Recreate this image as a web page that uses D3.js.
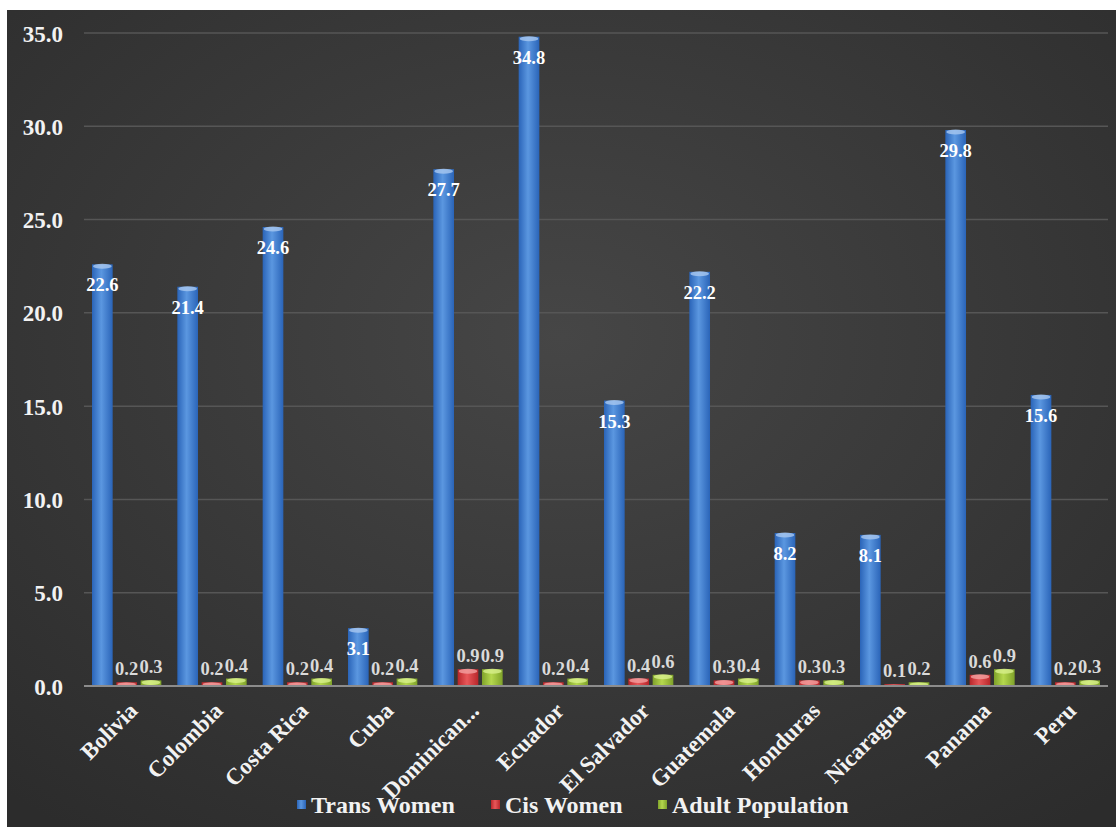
<!DOCTYPE html>
<html>
<head>
<meta charset="utf-8">
<script src="https://cdn.jsdelivr.net/npm/d3@7"></script>
<style>
  html, body { margin: 0; padding: 0; background: #fff; }
  svg { display: block; }
  text { font-family: "Liberation Serif", "DejaVu Serif", serif; font-weight: bold; }
</style>
</head>
<body>
<svg id="chart" width="1116" height="827"></svg>
<script>
var countries = ["Bolivia", "Colombia", "Costa Rica", "Cuba", "Dominican...", "Ecuador",
  "El Salvador", "Guatemala", "Honduras", "Nicaragua", "Panama", "Peru"]
var transWomen = [22.6, 21.4, 24.6, 3.1, 27.7, 34.8, 15.3, 22.2, 8.2, 8.1, 29.8, 15.6]
var cisWomen = [0.2, 0.2, 0.2, 0.2, 0.9, 0.2, 0.4, 0.3, 0.3, 0.1, 0.6, 0.2]
var adultPop = [0.3, 0.4, 0.4, 0.4, 0.9, 0.4, 0.6, 0.4, 0.3, 0.2, 0.9, 0.3]
var seriesNames = ["Trans Women", "Cis Women", "Adult Population"]
var yTicks = [0, 5, 10, 15, 20, 25, 30, 35]

var W = 1116, H = 827
var m = {left: 84, right: 8, top: 33, bottom: 141}
var svg = d3.select("#chart")
var defs = svg.append("defs")

// background: dark, a bit lighter toward the middle
var bg = defs.append("radialGradient").attr("id", "bg")
  .attr("cx", "50%").attr("cy", "40%").attr("r", "75%")
bg.append("stop").attr("offset", "0%").attr("stop-color", "#464646")
bg.append("stop").attr("offset", "100%").attr("stop-color", "#2c2c2c")
svg.append("rect").attr("x", 7).attr("y", 10).attr("width", W - 7).attr("height", H - 10)
  .attr("fill", "url(#bg)")

// cylinder-ish gradients for each series
var cols = [
  {dark: "#2a64b8", mid: "#5b97e0", cap: "#a9c8f0"},
  {dark: "#b8262a", mid: "#e8585a", cap: "#f2a0a0"},
  {dark: "#7fa22a", mid: "#b5d84e", cap: "#d8f08c"}
]
cols.forEach(function (c, i) {
  var g = defs.append("linearGradient").attr("id", "grad" + i)
    .attr("x1", "0%").attr("x2", "100%").attr("y1", "0%").attr("y2", "0%")
  g.append("stop").attr("offset", "0%").attr("stop-color", c.dark)
  g.append("stop").attr("offset", "45%").attr("stop-color", c.mid)
  g.append("stop").attr("offset", "100%").attr("stop-color", c.dark)
})

var y = d3.scaleLinear().domain([0, 35]).range([H - m.bottom, m.top])
var x0 = d3.scaleBand().domain(countries).range([m.left, W - m.right]).padding(0)
var x1 = d3.scaleBand().domain(seriesNames)
  .range([8, x0.bandwidth() - 8]).paddingInner(0.15)

// gridlines
svg.append("g").selectAll("line").data(yTicks.filter(d => d > 0)).join("line")
  .attr("x1", m.left).attr("x2", W - m.right)
  .attr("y1", d => y(d)).attr("y2", d => y(d))
  .attr("stroke", "#565656").attr("stroke-width", 1.5)

// y axis labels
var yAxis = d3.axisLeft(y).tickValues(yTicks).tickFormat(d3.format(".1f")).tickSize(0).tickPadding(0)
var ya = svg.append("g").attr("transform", "translate(63,0)").call(yAxis)
ya.select(".domain").remove()
ya.selectAll("text").attr("fill", "#f2f2f2").style("font-size", "23px")
  .style("font-family", "'Liberation Serif', serif").style("font-weight", "bold")
  .attr("dy", "0.35em")

var rows = countries.map((c, i) => ({country: c, vals: [transWomen[i], cisWomen[i], adultPop[i]]}))

var groups = svg.append("g").selectAll("g").data(rows).join("g")
  .attr("transform", d => "translate(" + x0(d.country) + ",0)")

groups.selectAll("rect.bar").data(d => d.vals.map((v, k) => ({v: v, k: k}))).join("rect")
  .attr("class", "bar")
  .attr("x", d => x1(seriesNames[d.k]))
  .attr("width", x1.bandwidth())
  .attr("y", d => y(d.v))
  .attr("height", d => y(0) - y(d.v))
  .attr("fill", d => "url(#grad" + d.k + ")")

// light cap on top of each bar
groups.selectAll("ellipse").data(d => d.vals.map((v, k) => ({v: v, k: k}))).join("ellipse")
  .attr("cx", d => x1(seriesNames[d.k]) + x1.bandwidth() / 2)
  .attr("cy", d => y(d.v) + 2)
  .attr("rx", x1.bandwidth() / 2 - 1)
  .attr("ry", d => Math.min(2.5, (y(0) - y(d.v)) / 2))
  .attr("fill", d => cols[d.k].cap).attr("opacity", 0.8)

// value labels
groups.selectAll("text.val").data(d => d.vals.map((v, k) => ({v: v, k: k}))).join("text")
  .attr("class", "val")
  .attr("x", d => x1(seriesNames[d.k]) + x1.bandwidth() / 2)
  .attr("y", d => d.k === 0 ? y(d.v) + 27 : y(d.v) - 7)
  .attr("text-anchor", "middle")
  .attr("fill", d => d.k === 0 ? "#ffffff" : "#dadada")
  .style("font-size", "18.5px")
  .text(d => d3.format(".1f")(d.v))

// zero axis line
svg.append("line").attr("x1", m.left).attr("x2", W - m.right)
  .attr("y1", y(0)).attr("y2", y(0))
  .attr("stroke", "#8c8c8c").attr("stroke-width", 2)

// category labels
var xAxis = d3.axisBottom(x0).tickSize(0).tickPadding(0)
var xa = svg.append("g").attr("transform", "translate(0," + (y(0) + 10) + ")").call(xAxis)
xa.select(".domain").remove()
xa.selectAll("text")
  .attr("fill", "#f2f2f2").style("font-size", "23px")
  .style("font-family", "'Liberation Serif', serif").style("font-weight", "bold")
  .attr("text-anchor", "end").attr("dy", "0.75em").attr("y", 0).attr("x", 0)
  .attr("transform", "translate(0,4) rotate(-45)")

// legend
var legendX = [297, 491, 658]
var lg = svg.append("g").selectAll("g").data(seriesNames).join("g")
  .attr("transform", (d, i) => "translate(" + legendX[i] + ",805)")
lg.append("rect").attr("x", 0).attr("y", -5).attr("width", 9).attr("height", 9)
  .attr("fill", (d, i) => "url(#grad" + i + ")")
lg.append("text").attr("x", 14).attr("y", 0).attr("dy", "0.35em")
  .attr("fill", "#f2f2f2").style("font-size", "24px").text(d => d)
</script>
</body>
</html>
